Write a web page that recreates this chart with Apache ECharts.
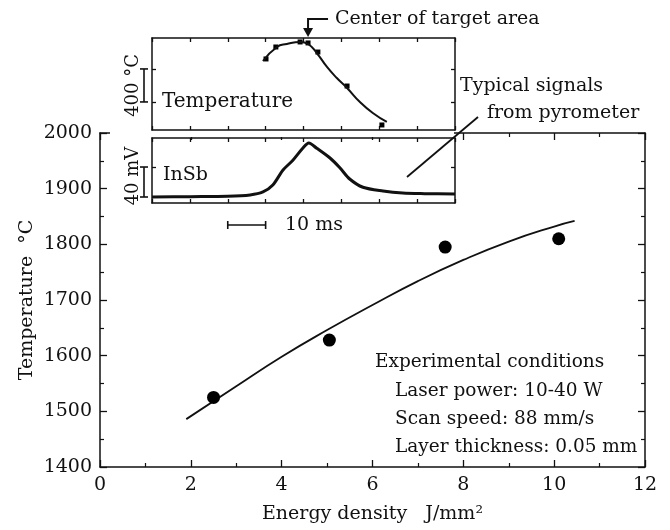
<html>
<head>
<meta charset="UTF-8" />
<script src="https://cdn.jsdelivr.net/npm/echarts@6/dist/echarts.min.js"></script>
<style>
    body { margin: 0; background: #fff; }
</style>
</head>
<body>
<div id="container" style="width: 670px; height: 530px"></div>
<script>
    // main plot: measured peak temperature vs energy density
    var energyDensity = [2.5, 5.05, 7.6, 10.1];
    var measuredTemp = [1525, 1628, 1795, 1810];
    // fitted trend curve
    var fitEnergy = [1.9, 3, 4, 5, 6, 7, 8, 9, 10, 10.45];
    var fitTemp = [1486, 1545, 1598, 1646, 1691, 1734, 1772, 1805, 1832, 1842];

    // inset: pyrometer temperature trace (time ms, relative °C)
    var traceTime = [29.3, 33.0, 35.6, 39.1, 41.2, 43.5, 46.2, 48.8, 51.5, 54.9, 58.3, 62.0];
    var traceTemp = [836, 1006, 1042, 1067, 1042, 933, 764, 630, 509, 339, 206, 97];
    var traceMarkTime = [30.1, 32.7, 39.1, 41.2, 43.8, 51.5, 60.7];
    var traceMarkTemp = [861, 1006, 1067, 1055, 945, 533, 61];

    // inset: InSb detector signal (time ms, mV)
    var insbTime = [0, 10, 20, 25.9, 29.3, 31.9, 34.6, 37.2, 39.8, 41.4, 43.5, 47, 49.6, 52.2, 55.7, 61, 66.2, 72, 80];
    var insbSignal = [0, 0.5, 1, 2.7, 6.7, 16, 36, 49, 65, 72, 65, 52, 39, 24, 13, 8, 5.3, 4.5, 4];

    // scale bars
    var scaleTime = [20, 30];
    var scaleTemp = [340, 740];
    var scaleSignal = [0, 40];
    var targetCenterTime = 41.2;

    var font = 'DejaVu Serif';
    var ink = '#111';

    function zip(a, b) {
        var out = [];
        for (var i = 0; i < a.length; i++) out.push([a[i], b[i]]);
        return out;
    }

    function ticks(len, custom) {
        var t = { show: true, inside: true, length: len, lineStyle: { color: ink, width: 1.3 } };
        if (custom) t.customValues = custom;
        return t;
    }

    function boxAxis(opt) {
        var base = {
            axisLine: { show: true, onZero: false, lineStyle: { color: ink, width: 1.5 } },
            axisTick: ticks(4),
            axisLabel: { show: false },
            splitLine: { show: false }
        };
        for (var k in opt) base[k] = opt[k];
        return base;
    }

    var chart = echarts.init(document.getElementById('container'));

    var mainMinor = { show: true, splitNumber: 2, length: 4, lineStyle: { color: ink, width: 1.2 } };
    var labelStyle = { color: ink, fontFamily: font, fontSize: 19 };
    var plain = function (v) { return String(v); };

    var option = {
        backgroundColor: '#fff',
        animation: false,
        grid: [
            { left: 100, right: 25, top: 133, bottom: 63, outerBoundsMode: 'none' },
            { left: 152, width: 303, top: 38, height: 92, outerBoundsMode: 'none' },
            { left: 152, width: 303, top: 138, height: 65, outerBoundsMode: 'none' }
        ],
        xAxis: [
            boxAxis({ gridIndex: 0, type: 'value', position: 'bottom', min: 0, max: 12, interval: 2,
                axisTick: ticks(7), minorTick: mainMinor,
                axisLabel: { show: true, margin: 9, color: ink, fontFamily: font, fontSize: 19, formatter: plain },
                name: 'Energy density   J/mm\u00B2', nameLocation: 'middle', nameGap: 38, nameMoveOverlap: false,
                nameTextStyle: labelStyle }),
            boxAxis({ gridIndex: 0, type: 'value', position: 'top', min: 0, max: 12, interval: 2,
                axisTick: ticks(7), minorTick: mainMinor }),
            boxAxis({ gridIndex: 1, type: 'value', position: 'bottom', min: 0, max: 80, interval: 10 }),
            boxAxis({ gridIndex: 1, type: 'value', position: 'top', min: 0, max: 80, interval: 10 }),
            boxAxis({ gridIndex: 2, type: 'value', position: 'bottom', min: 0, max: 80, interval: 10 }),
            boxAxis({ gridIndex: 2, type: 'value', position: 'top', min: 0, max: 80, interval: 10 })
        ],
        yAxis: [
            boxAxis({ gridIndex: 0, type: 'value', position: 'left', min: 1400, max: 2000, interval: 100,
                axisTick: ticks(7), minorTick: mainMinor,
                axisLabel: { show: true, margin: 8, color: ink, fontFamily: font, fontSize: 19, formatter: plain },
                name: 'Temperature  \u00B0C', nameLocation: 'middle', nameGap: 63, nameMoveOverlap: false,
                nameTextStyle: labelStyle }),
            boxAxis({ gridIndex: 0, type: 'value', position: 'right', min: 1400, max: 2000, interval: 100,
                axisTick: ticks(7), minorTick: mainMinor }),
            boxAxis({ gridIndex: 1, type: 'value', position: 'left', min: 0, max: 1115, axisTick: ticks(4, scaleTemp) }),
            boxAxis({ gridIndex: 1, type: 'value', position: 'right', min: 0, max: 1115, axisTick: ticks(4, scaleTemp) }),
            boxAxis({ gridIndex: 2, type: 'value', position: 'left', min: -8, max: 78.7, axisTick: ticks(4, [40]) }),
            boxAxis({ gridIndex: 2, type: 'value', position: 'right', min: -8, max: 78.7, axisTick: ticks(4, [40]) })
        ],
        series: [
            {
                type: 'line', xAxisIndex: 0, yAxisIndex: 0, data: zip(fitEnergy, fitTemp),
                smooth: true, showSymbol: false, lineStyle: { color: ink, width: 1.8 }, z: 3
            },
            {
                type: 'scatter', xAxisIndex: 0, yAxisIndex: 0, data: zip(energyDensity, measuredTemp),
                symbol: 'circle', symbolSize: 13, itemStyle: { color: '#000', opacity: 1 }, z: 4
            },
            {
                type: 'line', xAxisIndex: 2, yAxisIndex: 2, data: zip(traceTime, traceTemp),
                smooth: true, showSymbol: false, lineStyle: { color: ink, width: 2 }
            },
            {
                type: 'scatter', xAxisIndex: 2, yAxisIndex: 2, data: zip(traceMarkTime, traceMarkTemp),
                symbol: 'rect', symbolSize: 5, itemStyle: { color: '#000', opacity: 1 }
            },
            {
                type: 'line', xAxisIndex: 4, yAxisIndex: 4, data: zip(insbTime, insbSignal),
                smooth: 0.3, showSymbol: false, lineStyle: { color: ink, width: 3 }
            }
        ]
    };
    chart.setOption(option);

    // annotations placed through the inset scales
    var t0 = chart.convertToPixel({ xAxisIndex: 2 }, scaleTime[0]);
    var t1 = chart.convertToPixel({ xAxisIndex: 2 }, scaleTime[1]);
    var k0 = chart.convertToPixel({ yAxisIndex: 2 }, scaleTemp[0]);
    var k1 = chart.convertToPixel({ yAxisIndex: 2 }, scaleTemp[1]);
    var s0 = chart.convertToPixel({ yAxisIndex: 4 }, scaleSignal[0]);
    var s1 = chart.convertToPixel({ yAxisIndex: 4 }, scaleSignal[1]);
    var cx = chart.convertToPixel({ xAxisIndex: 2 }, targetCenterTime);
    var barX = 144, barY = 225, cap = 4;
    var lineStyle = { stroke: ink, lineWidth: 1.6 };

    function bracket(x, ya, yb) {
        return [
            { type: 'line', shape: { x1: x, y1: ya, x2: x, y2: yb }, style: lineStyle },
            { type: 'line', shape: { x1: x - cap, y1: ya, x2: x + cap, y2: ya }, style: lineStyle },
            { type: 'line', shape: { x1: x - cap, y1: yb, x2: x + cap, y2: yb }, style: lineStyle }
        ];
    }
    function label(text, x, y, size, rotate) {
        var el = { type: 'text', x: x, y: y,
            style: { text: text, fill: ink, font: (size || 19) + 'px "' + font + '"',
                textAlign: rotate ? 'center' : 'left', textVerticalAlign: 'middle' } };
        if (rotate) el.rotation = Math.PI / 2;
        return el;
    }

    var elements = [
        // hide the main frame's top edge behind the inset
        { type: 'rect', shape: { x: 110, y: 131, width: 344, height: 6 }, style: { fill: '#fff' } },
        { type: 'line', shape: { x1: t0, y1: barY, x2: t1, y2: barY }, style: lineStyle },
        { type: 'line', shape: { x1: t0, y1: barY - cap, x2: t0, y2: barY + cap }, style: lineStyle },
        { type: 'line', shape: { x1: t1, y1: barY - cap, x2: t1, y2: barY + cap }, style: lineStyle },
        // center of target arrow
        { type: 'polyline', shape: { points: [[cx + 20, 19], [cx, 19], [cx, 30]] }, style: { stroke: ink, lineWidth: 2, fill: null } },
        { type: 'polygon', shape: { points: [[cx - 5, 28], [cx + 5, 28], [cx, 37]] }, style: { fill: ink } },
        // leader line
        { type: 'line', shape: { x1: 478, y1: 117, x2: 407, y2: 177 }, style: { stroke: ink, lineWidth: 1.8 } },
        label('Center of target area', 335, 19),
        label('Temperature', 162, 102, 20),
        label('InSb', 163, 175),
        label('10 ms', 285, 225),
        label('Typical signals', 460, 86),
        label('from pyrometer', 487, 113),
        label('Experimental conditions', 375, 362, 18.5),
        label('Laser power: 10-40 W', 395, 391, 18.5),
        label('Scan speed: 88 mm/s', 395, 419, 18.5),
        label('Layer thickness: 0.05 mm', 395, 447, 18.5),
        label('400 \u00B0C', 133, (k0 + k1) / 2, 18, true),
        label('40 mV', 133, (s0 + s1) / 2 - 6, 18, true)
    ].concat(bracket(barX, k1, k0), bracket(barX, s1, s0));

    for (var i = 0; i < elements.length; i++) elements[i].z = 101;
    chart.setOption({ graphic: { elements: elements } });
</script>
</body>
</html>
